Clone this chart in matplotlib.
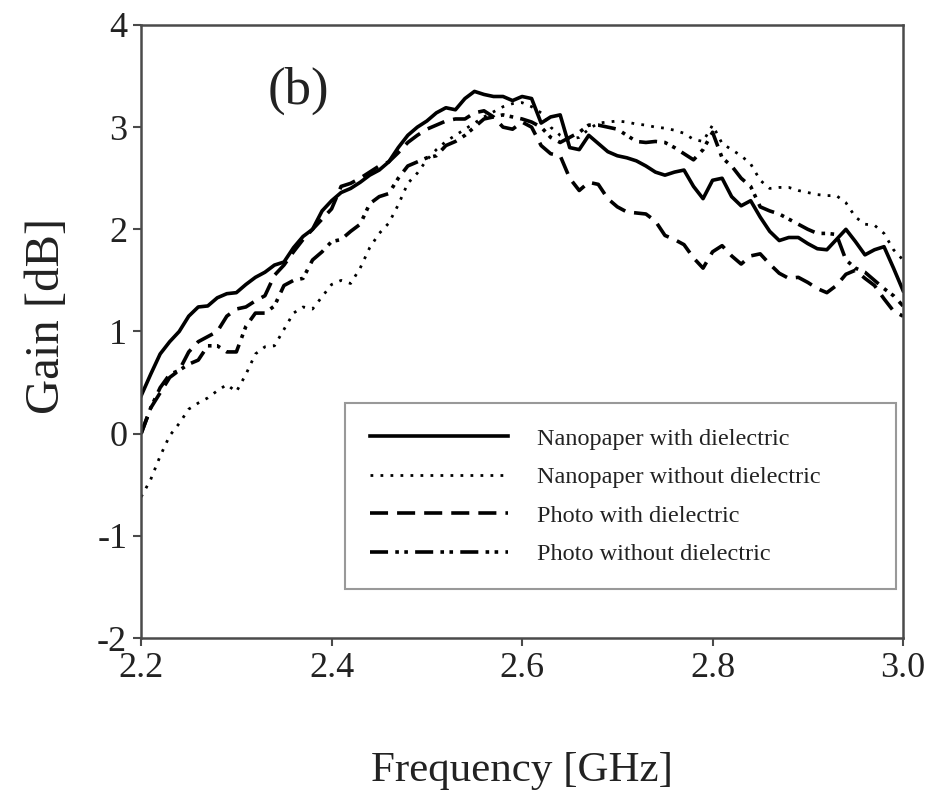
import numpy as np
import matplotlib
matplotlib.use('Agg')
from matplotlib import pyplot as plt

# measured gain, sampled every 10 MHz from 2.20 to 3.00 GHz
freq = np.round(np.arange(2.20, 3.001, 0.01), 2)

nano_diel = [0.37, 0.58, 0.78, 0.90, 1.00, 1.15, 1.24, 1.25, 1.33, 1.37,
             1.38, 1.46, 1.53, 1.58, 1.65, 1.68, 1.82, 1.93, 2.00, 2.18,
             2.28, 2.36, 2.40, 2.46, 2.53, 2.58, 2.66, 2.80, 2.92, 3.00,
             3.06, 3.14, 3.19, 3.17, 3.28, 3.35, 3.32, 3.30, 3.30, 3.26,
             3.30, 3.28, 3.04, 3.10, 3.12, 2.80, 2.78, 2.92, 2.84, 2.76,
             2.72, 2.70, 2.67, 2.62, 2.56, 2.53, 2.56, 2.58, 2.42, 2.30,
             2.48, 2.50, 2.32, 2.23, 2.28, 2.12, 1.98, 1.89, 1.92, 1.92,
             1.86, 1.81, 1.80, 1.90, 2.00, 1.88, 1.75, 1.80, 1.83, 1.62,
             1.40]

nano_no_diel = [-0.62, -0.45, -0.22, -0.02, 0.10, 0.24, 0.30, 0.35, 0.42, 0.48,
                0.41, 0.58, 0.78, 0.85, 0.86, 1.02, 1.18, 1.24, 1.22, 1.34,
                1.46, 1.50, 1.47, 1.62, 1.82, 1.96, 2.06, 2.24, 2.45, 2.55,
                2.68, 2.78, 2.86, 2.92, 2.98, 3.04, 3.10, 3.15, 3.20, 3.23,
                3.24, 3.20, 3.14, 3.00, 2.92, 2.88, 2.90, 2.98, 3.04, 3.05,
                3.06, 3.05, 3.03, 3.02, 3.00, 2.99, 2.97, 2.94, 2.88, 2.86,
                3.02, 2.84, 2.78, 2.72, 2.64, 2.48, 2.40, 2.41, 2.41, 2.38,
                2.36, 2.34, 2.33, 2.33, 2.26, 2.12, 2.05, 2.04, 1.96, 1.80,
                1.70]

photo_diel = [0.00, 0.25, 0.40, 0.55, 0.62, 0.80, 0.90, 0.95, 1.00, 1.15,
              1.22, 1.24, 1.30, 1.35, 1.55, 1.65, 1.78, 1.90, 2.00, 2.10,
              2.20, 2.42, 2.45, 2.50, 2.56, 2.62, 2.66, 2.75, 2.85, 2.92,
              2.98, 3.02, 3.06, 3.08, 3.08, 3.14, 3.16, 3.10, 3.00, 2.98,
              3.05, 3.00, 2.82, 2.74, 2.72, 2.50, 2.38, 2.46, 2.44, 2.30,
              2.22, 2.17, 2.16, 2.15, 2.08, 1.94, 1.90, 1.85, 1.72, 1.62,
              1.78, 1.84, 1.74, 1.66, 1.74, 1.76, 1.66, 1.57, 1.52, 1.53,
              1.48, 1.42, 1.38, 1.45, 1.56, 1.60, 1.52, 1.45, 1.32, 1.20,
              1.15]

photo_no_diel = [0.00, 0.25, 0.45, 0.58, 0.62, 0.68, 0.72, 0.86, 0.86, 0.80,
                 0.80, 1.05, 1.18, 1.18, 1.25, 1.45, 1.50, 1.52, 1.70, 1.78,
                 1.88, 1.90, 1.98, 2.05, 2.25, 2.32, 2.35, 2.50, 2.62, 2.66,
                 2.70, 2.72, 2.82, 2.86, 2.92, 3.00, 3.08, 3.10, 3.12, 3.10,
                 3.08, 3.05, 3.00, 2.90, 2.85, 2.90, 2.95, 3.02, 3.02, 3.00,
                 2.98, 2.92, 2.86, 2.85, 2.86, 2.85, 2.80, 2.74, 2.68, 2.78,
                 2.95, 2.70, 2.62, 2.50, 2.42, 2.22, 2.18, 2.15, 2.10, 2.05,
                 2.00, 1.96, 1.96, 1.95, 1.70, 1.62, 1.58, 1.50, 1.42, 1.35,
                 1.25]

labels = ['Nanopaper with dielectric', 'Nanopaper without dielectric',
          'Photo with dielectric', 'Photo without dielectric']

plt.rcParams['font.family'] = ['Liberation Serif', 'DejaVu Serif']
plt.rcParams['axes.unicode_minus'] = False
ink = '#222222'
frame = '#4a4a4a'

fig = plt.figure(figsize=(9.47, 7.98), dpi=100)
ax = fig.add_axes([0.149, 0.2005, 0.8046, 0.7682])

ax.plot(freq, nano_diel, color='k', lw=2.6, label=labels[0])
ax.plot(freq, nano_no_diel, color='k', lw=2.0, ls=(0, (1, 2.6)), label=labels[1])
ax.plot(freq, photo_diel, color='k', lw=2.6, ls=(0, (5, 2.5)), label=labels[2])
ax.plot(freq, photo_no_diel, color='k', lw=2.6,
        ls=(0, (5, 2, 1, 1.5, 1, 2)), label=labels[3])

ax.set_xlim(2.2, 3.0)
ax.set_ylim(-2, 4)
ax.set_xticks([2.2, 2.4, 2.6, 2.8, 3.0])
ax.set_xticklabels(['2.2', '2.4', '2.6', '2.8', '3.0'])
ax.set_yticks(range(-2, 5))

for side in ax.spines.values():
    side.set_color(frame)
    side.set_linewidth(1.8)
ax.tick_params(axis='both', direction='out', length=6, width=1.5,
               color=frame, labelsize=26, labelcolor=ink, pad=4,
               top=False, right=False)

ax.set_xlabel('Frequency [GHz]', fontsize=31, color=ink)
ax.set_ylabel('Gain [dB]', fontsize=35, color=ink)
ax.xaxis.set_label_coords(0.5, -0.185)
ax.yaxis.set_label_coords(-0.095, 0.525)

ax.text(0.207, 0.892, '(b)', transform=ax.transAxes, fontsize=38,
        color=ink, ha='center', va='center')

leg = ax.legend(loc='upper left', bbox_to_anchor=(0.268, 0.383, 0.723, 0.0),
                mode='expand', fontsize=17.5, frameon=True, fancybox=False,
                handlelength=5.7, handletextpad=1.2, labelspacing=0.68,
                borderpad=1.0, borderaxespad=0.0)
leg.get_frame().set_edgecolor('#808080')
leg.get_frame().set_linewidth(1.5)
for t in leg.get_texts():
    t.set_color(ink)

plt.savefig('out.png', dpi=100)
